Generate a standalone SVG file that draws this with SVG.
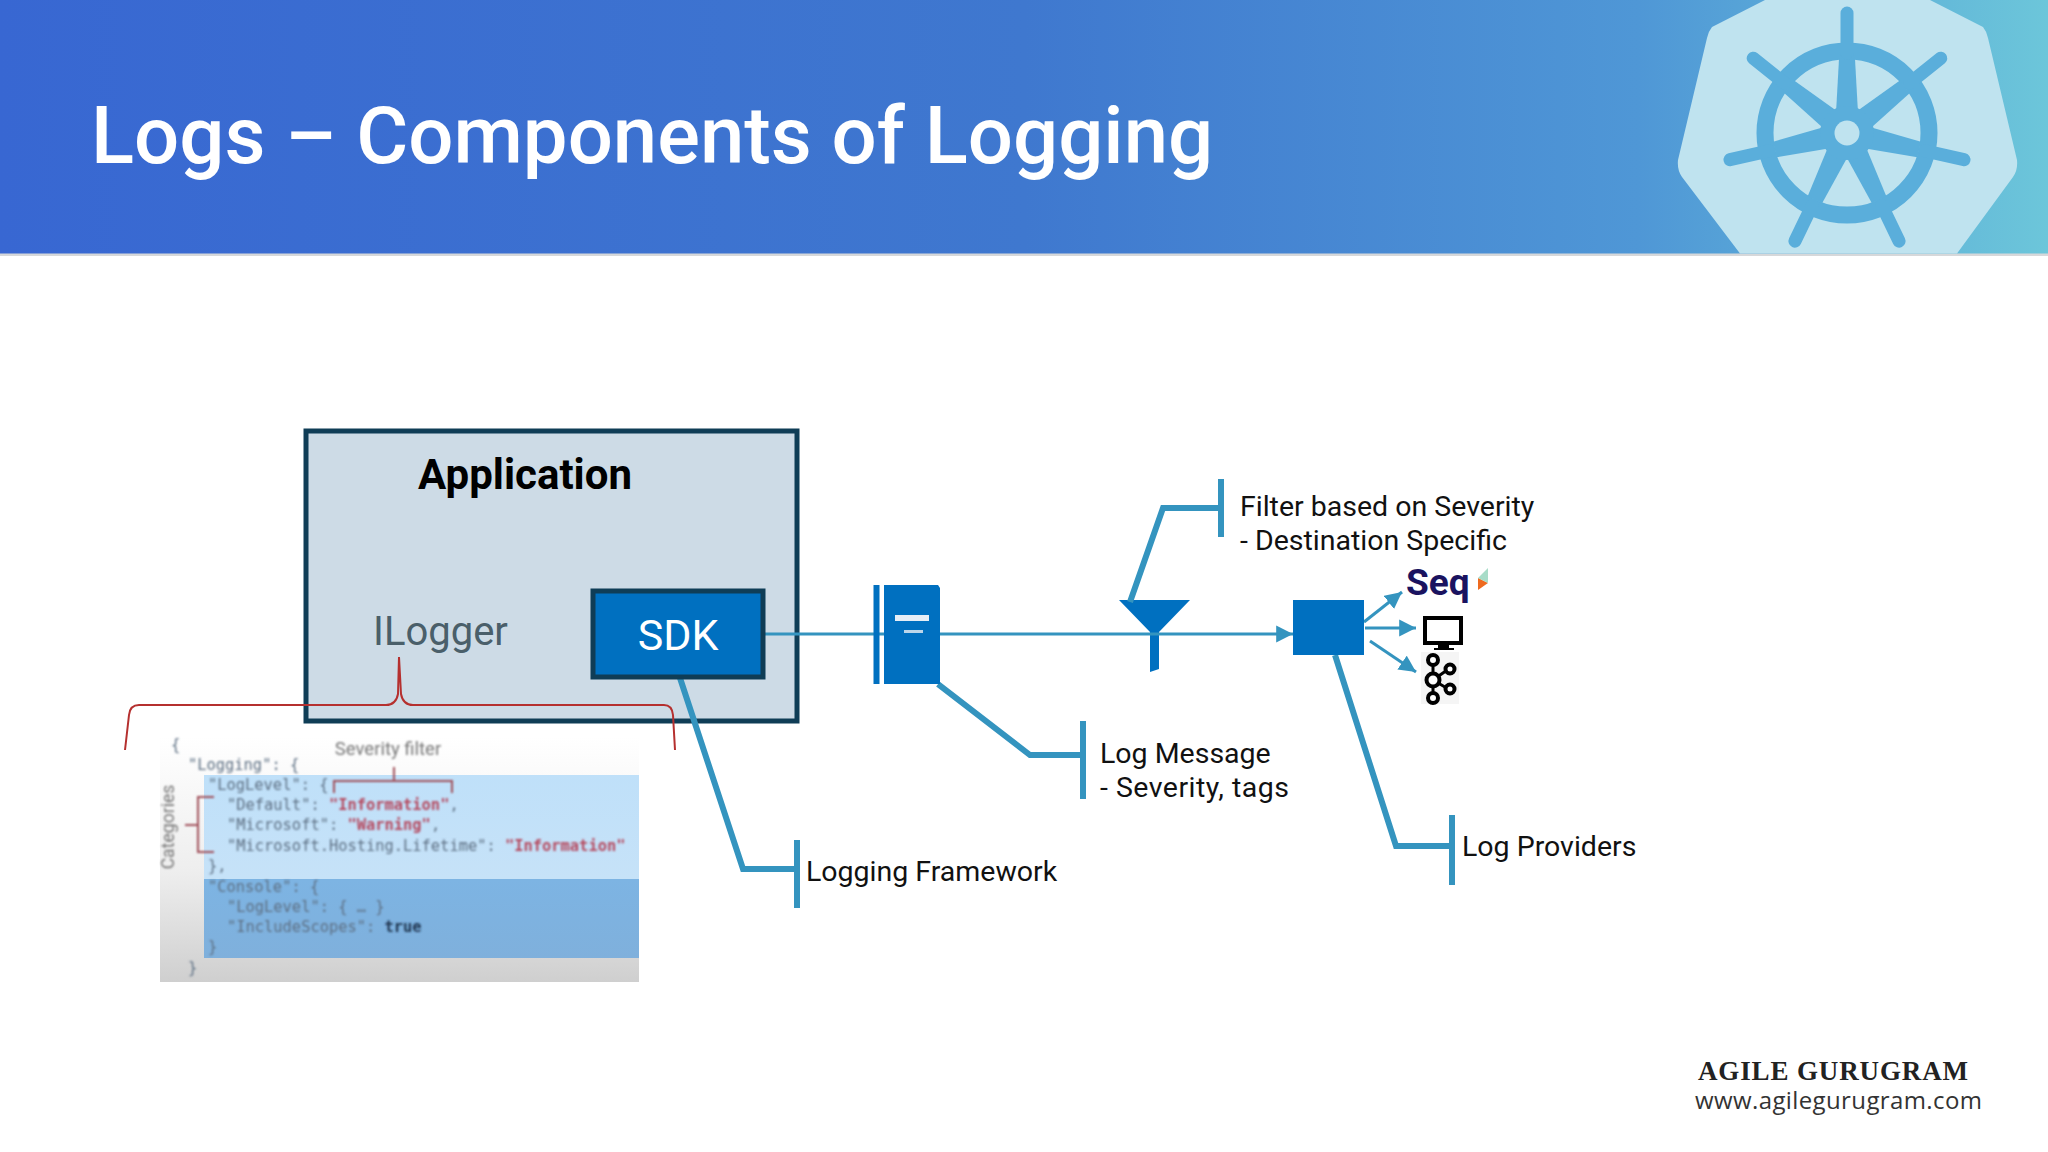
<svg xmlns="http://www.w3.org/2000/svg" width="2048" height="1152" viewBox="0 0 2048 1152">
<defs>
<linearGradient id="hdr" x1="0" y1="0" x2="1" y2="0"><stop offset="0" stop-color="#3867d2"/><stop offset="0.5" stop-color="#3f78cf"/><stop offset="0.8" stop-color="#4f97d6"/><stop offset="1" stop-color="#6cc6da"/></linearGradient>
<linearGradient id="jsonbg" x1="0" y1="0" x2="0" y2="1"><stop offset="0" stop-color="#ffffff"/><stop offset="0.55" stop-color="#eeeeee"/><stop offset="1" stop-color="#cfcfcf"/></linearGradient>
<linearGradient id="band1" x1="0" y1="0" x2="0" y2="1"><stop offset="0" stop-color="#bfe0f9"/><stop offset="1" stop-color="#c6e2f8"/></linearGradient>
<linearGradient id="band2" x1="0" y1="0" x2="0" y2="1"><stop offset="0" stop-color="#7db4e3"/><stop offset="1" stop-color="#7fb0dc"/></linearGradient>
<filter id="soft" x="-5%" y="-5%" width="110%" height="110%"><feGaussianBlur stdDeviation="0.85"/></filter>
<marker id="ah" viewBox="0 0 10 10" refX="10" refY="5" markerWidth="5.600" markerHeight="5.800" orient="auto"><path d="M0 0L10 5L0 10z" fill="#3494bf"/></marker>
<g id="spoke"><path d="M-11 -20L-8 -74L8 -74L11 -20z"/><path d="M0 -80V-120" stroke="#5aaedb" stroke-width="13" stroke-linecap="round"/></g>
</defs>
<style>
text{font-family:Roboto,"Liberation Sans",sans-serif}
.lbl{font-size:28.500px;fill:#111}
.bar{fill:none;stroke:#3494bf;stroke-width:6}
.thin{fill:none;stroke:#3494bf;stroke-width:3}
.blue{fill:#0070c0}
text.js{font-family:"DejaVu Sans Mono","Liberation Mono",monospace;font-size:15.400px;fill:#5d6f83}
.red{fill:#b5495f;font-weight:bold}
.brace{fill:none;stroke:#b5302f;stroke-width:2}
text.serif{font-family:"Liberation Serif",serif;font-weight:700;font-size:27px;fill:#222}
text.url{font-family:"Open Sans",sans-serif;font-size:24px;fill:#333}
</style>
<rect width="2048" height="1152" fill="#fff"/>
<g id="header">
<rect y="252" width="2048" height="4" fill="#d6d8da"/>
<rect width="2048" height="253.500" fill="url(#hdr)"/>
<path d="M1765 0L1712 27Q1708 32 1707 38L1678 160Q1677 170 1682 177L1740 253.500H1957L2013 177Q2018 170 2017 160L1988 38Q1987 32 1983 27L1930 0z" fill="#bfe3ef"/>
<g fill="#5aaedb" transform="translate(1847 133)">
<circle r="82" fill="none" stroke="#5aaedb" stroke-width="17"/>
<use href="#spoke"/><use href="#spoke" transform="rotate(51.430)"/><use href="#spoke" transform="rotate(102.860)"/><use href="#spoke" transform="rotate(154.290)"/><use href="#spoke" transform="rotate(205.710)"/><use href="#spoke" transform="rotate(257.140)"/><use href="#spoke" transform="rotate(308.570)"/>
<circle r="27"/><circle r="12.500" fill="#bfe3ef"/>
</g>
<text x="91" y="163" font-size="79.700" font-weight="500" fill="#fff">Logs – Components of Logging</text>
</g>
<g id="application">
<rect x="306" y="431" width="491" height="290" fill="#cddbe6" stroke="#0f3d56" stroke-width="5"/>
<text x="525" y="489" text-anchor="middle" font-size="42" font-weight="700" fill="#000">Application</text>
<text x="373" y="645" font-size="40" fill="#4a5f6a">ILogger</text>
</g>
<g id="json-sample">
<rect x="160" y="737" width="479" height="245" fill="url(#jsonbg)"/>
<rect x="204" y="775" width="435" height="104" fill="url(#band1)"/>
<rect x="204" y="879" width="435" height="79" fill="url(#band2)"/>
<g filter="url(#soft)">
<text class="js" x="171" y="750">{</text>
<text class="js" x="188" y="770">"Logging": {</text>
<text class="js" x="208" y="790">"LogLevel": {</text>
<text class="js" x="227" y="810">"Default": <tspan class="red">"Information"</tspan>,</text>
<text class="js" x="227" y="830">"Microsoft": <tspan class="red">"Warning"</tspan>,</text>
<text class="js" x="227" y="851">"Microsoft.Hosting.Lifetime": <tspan class="red">"Information"</tspan></text>
<text class="js" x="208" y="871">},</text>
<text class="js" x="208" y="892">"Console": {</text>
<text class="js" x="227" y="912">"LogLevel": { … }</text>
<text class="js" x="227" y="932">"IncludeScopes": <tspan font-weight="bold" fill="#1f3550">true</tspan></text>
<text class="js" x="208" y="952">}</text>
<text class="js" x="188" y="973">}</text>
<text x="388" y="755" text-anchor="middle" font-size="18.500" fill="#777">Severity filter</text>
<text transform="translate(174 827) rotate(-90)" text-anchor="middle" font-size="17.600" fill="#777">Categories</text>
<path d="M334 793V781H452V793M394 767V781" fill="none" stroke="#a0505a" stroke-width="2"/>
<path d="M214 797H198V852H214M185 825H198" fill="none" stroke="#a0505a" stroke-width="2"/>
</g>
</g>
<g id="red-brace"><path class="brace" d="M125 750L129 715Q130 705 139 705H386Q396 705 398 694L399 657L401 694Q403 705 413 705H664Q672 705 673 715L675 750"/></g>
<g id="filter">
<path class="blue" d="M1119 600H1190L1159 632V669L1150 672V632z"/>
</g>
<g id="connectors">
<path d="M764 634H1293" class="thin" marker-end="url(#ah)"/>
<path d="M680 678L743 869H797" class="bar"/><path d="M797 840V908" class="bar"/>
<path d="M938 684L1030 755H1083" class="bar"/><path d="M1083 721V799" class="bar"/>
<path d="M1130 602L1163 508H1221" class="bar"/><path d="M1221 479V537" class="bar"/>
<path d="M1335 655L1396 846H1452" class="bar"/><path d="M1452 815V885" class="bar"/>
<path d="M1364 622L1402 592" class="thin" marker-end="url(#ah)"/>
<path d="M1365 628H1416" class="thin" marker-end="url(#ah)"/>
<path d="M1370 641L1416 672" class="thin" marker-end="url(#ah)"/>
</g>
<g id="sdk">
<rect x="593" y="591" width="170" height="86" class="blue" stroke="#0f3d56" stroke-width="5"/>
<text x="678" y="650" text-anchor="middle" font-size="43" fill="#fff">SDK</text>
</g>
<g id="log-message">
<rect x="873.500" y="585" width="6" height="99" class="blue"/>
<path class="blue" d="M884 585H938L940 588V684H884z"/>
<rect x="895" y="615" width="34" height="6" fill="#e6eef6"/>
<rect x="904" y="630" width="19" height="3" fill="#bcd6ea"/>
</g>
<g id="router"><rect x="1293" y="600" width="71" height="55" class="blue"/></g>
<g id="seq">
<text x="1406" y="595" font-size="37" font-weight="700" fill="#1a1360">Seq</text>
<path d="M1478 578L1488 583L1478 590z" fill="#ee6a1f"/><path d="M1478 578L1488 568V583z" fill="#a8dcc8"/>
</g>
<g id="monitor">
<rect x="1425" y="618" width="36" height="25" fill="#fff" stroke="#000" stroke-width="4"/>
<path d="M1438 645H1449V648H1454V650H1434V648H1438z" fill="#000"/>
</g>
<g id="kafka">
<rect x="1421" y="652" width="38" height="52" fill="#f5f5f5"/>
<path d="M1433 665V698M1433 680L1450 668M1433 680L1450 690" stroke="#000" stroke-width="3" fill="none"/>
<g fill="#fff" stroke="#000" stroke-width="4"><circle cx="1433" cy="660" r="5"/><circle cx="1433" cy="680" r="6.500"/><circle cx="1433" cy="698" r="5"/><circle cx="1450" cy="669" r="4.500"/><circle cx="1450" cy="689" r="4.500"/></g>
</g>
<g id="labels">
<text class="lbl" x="1240" y="516">Filter based on Severity</text>
<text class="lbl" x="1240" y="550">- Destination Specific</text>
<text class="lbl" x="1100" y="763">Log Message</text>
<text class="lbl" x="1100" y="797" textLength="189">- Severity, tags</text>
<text class="lbl" x="806" y="881">Logging Framework</text>
<text class="lbl" x="1462" y="856">Log Providers</text>
</g>
<g id="watermark">
<text class="serif" x="1698" y="1080" textLength="270">AGILE GURUGRAM</text>
<text class="url" x="1695" y="1109" textLength="287">www.agilegurugram.com</text>
</g>
</svg>
